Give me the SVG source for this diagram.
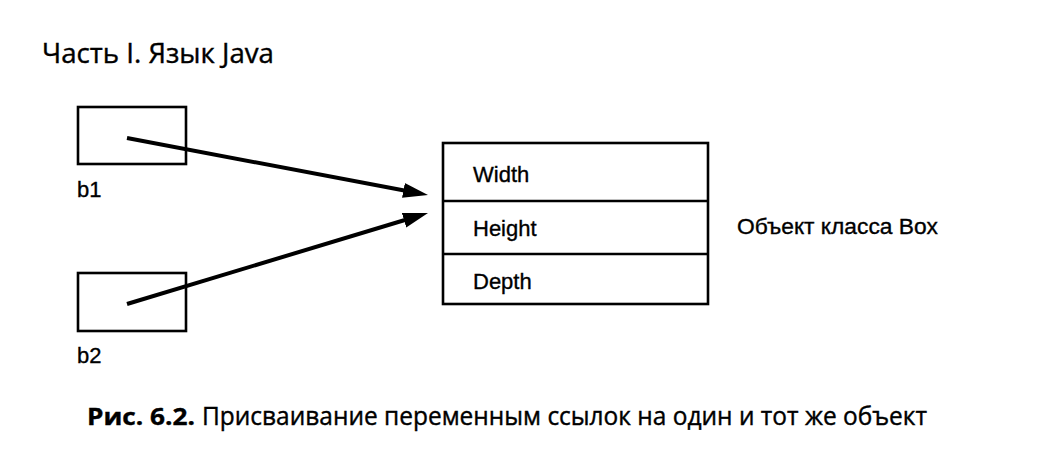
<svg xmlns="http://www.w3.org/2000/svg" width="1044" height="462" viewBox="0 0 1044 462">
<style>
.box{fill:none;stroke:#000;stroke-width:2.6}
.lbl{font-family:"Liberation Sans",Arial,sans-serif;font-size:22px;fill:#000;stroke:#000;stroke-width:0.35}
.cap{font-family:"Open Sans","Noto Sans",sans-serif;fill:#000;stroke:#000;stroke-width:0.4}
.arr{stroke:#000;stroke-width:4;fill:none}
</style>
<defs>
<marker id="ah" markerUnits="userSpaceOnUse" markerWidth="26" markerHeight="16" refX="13" refY="8" orient="auto" viewBox="0 0 26 16">
<path d="M0,0.5 L25,8 L0,15.5 z" fill="#000"/>
</marker>
</defs>
<rect width="1044" height="462" fill="#fff"/>
<text class="cap" x="42" y="63" font-size="28" textLength="232" lengthAdjust="spacingAndGlyphs">Часть I. Язык Java</text>
<g id="b1">
<rect class="box" x="78" y="107" width="108" height="57"/>
<text class="lbl" x="77" y="197" font-size="20">b1</text>
</g>
<g id="b2">
<rect class="box" x="78" y="273" width="108" height="58"/>
<text class="lbl" x="77" y="363" font-size="20">b2</text>
</g>
<g id="box-object">
<rect class="box" x="443" y="143" width="265" height="161"/>
<line class="box" x1="443" y1="201" x2="708" y2="201"/>
<line class="box" x1="443" y1="254" x2="708" y2="254"/>
<text class="lbl" x="473" y="182">Width</text>
<text class="lbl" x="473" y="236">Height</text>
<text class="lbl" x="473" y="289">Depth</text>
<text class="lbl" x="737" y="234" font-size="23" textLength="201" lengthAdjust="spacingAndGlyphs">Объект класса Box</text>
</g>
<g id="connectors">
<line class="arr" x1="127" y1="138" x2="416.2" y2="192.8" marker-end="url(#ah)"/>
<line class="arr" x1="127" y1="304" x2="416.5" y2="216.5" marker-end="url(#ah)"/>
</g>
<text class="cap" x="87" y="425" font-size="24" font-weight="bold" textLength="108" lengthAdjust="spacingAndGlyphs">Рис. 6.2.</text>
<text class="cap" x="202" y="425" font-size="25" textLength="725" lengthAdjust="spacingAndGlyphs">Присваивание переменным ссылок на один и тот же объект</text>
</svg>
